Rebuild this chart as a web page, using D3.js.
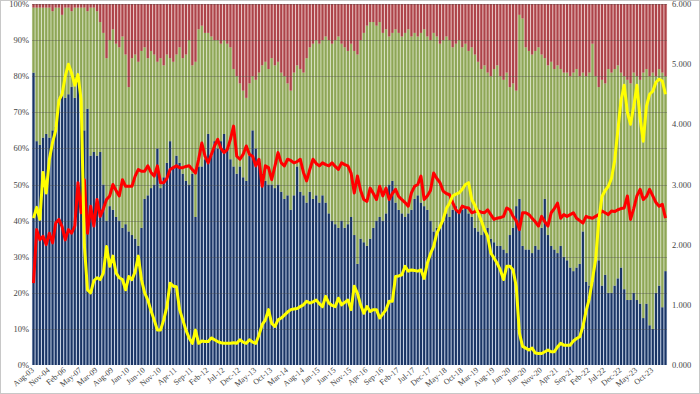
<!DOCTYPE html>
<meta charset="utf-8">
<title>chart</title>
<body>
<script src="https://cdn.jsdelivr.net/npm/d3@7"></script>
<style>
html, body {
    margin: 0;
    background: #fff;
}
svg {
    display: block;
}
text {
    font-family: "Liberation Serif", "DejaVu Serif", serif;
    fill: #444;
}
</style>
<script>
// first 20 points are irregular (quarterly), monthly from Mar-09
var earlyLabels = ["Aug-03", "Nov-03", "Feb-04", "May-04", "Aug-04", "Nov-04", "Feb-05", "May-05", "Aug-05", "Nov-05",
    "Feb-06", "May-06", "Aug-06", "Nov-06", "Feb-07", "May-07", "Aug-07", "Nov-07", "Mar-08", "Sep-08"];
var monthNames = ["Jan", "Feb", "Mar", "Apr", "May", "Jun", "Jul", "Aug", "Sep", "Oct", "Nov", "Dec"];

// share in bottom (blue) segment, %
var blueShare = [
    81, 62, 61, 63, 64, 63, 65, 66, 74, 75,
    74, 75, 77, 74, 81, 70, 65, 71, 58, 59,
    58, 59, 50, 40, 44, 43, 41, 40, 38, 39,
    37, 36, 35, 33, 38, 46, 47, 49, 50, 60,
    49, 52, 56, 62, 55, 58, 56, 53, 51, 50,
    53, 41, 55, 55, 57, 64, 58, 62, 60, 62,
    64, 60, 57, 55, 53, 55, 52, 51, 58, 65,
    60, 56, 53, 51, 50, 50, 49, 50, 48, 46,
    47, 43, 47, 55, 48, 47, 45, 48, 46, 47,
    45, 47, 45, 42, 40, 39, 38, 40, 38, 39,
    41, 36, 28, 35, 34, 33, 35, 38, 40, 41,
    40, 42, 50, 51, 45, 43, 42, 41, 42, 43,
    46, 47, 45, 44, 43, 40, 37, 38, 38, 40,
    42, 41, 43, 44, 42, 43, 44, 42, 41, 38,
    37, 36, 37, 38, 35, 34, 33, 33, 32, 31,
    36, 38, 44, 46, 33, 32, 32, 31, 33, 32,
    38, 46, 36, 33, 32, 31, 33, 30, 29, 27,
    26, 27, 28, 37, 23, 22, 23, 29, 29, 22,
    25, 20, 20, 22, 24, 27, 21, 18, 18, 20,
    18, 17, 13, 17, 11, 10, 20, 22, 16, 26
];

// share in top (red) segment, %
var redShare = [
    1, 1, 1, 1, 1, 1, 2, 1, 1, 3,
    1, 1, 2, 1, 1, 1, 1, 2, 1, 1,
    2, 5, 8, 15, 10, 7, 11, 12, 9, 14,
    23, 15, 14, 16, 13, 12, 15, 13, 14, 16,
    15, 17, 14, 15, 16, 14, 12, 15, 14, 10,
    17, 16, 7, 6, 8, 8, 9, 10, 10, 11,
    10, 11, 12, 18, 20, 22, 24, 26, 22, 20,
    21, 19, 17, 16, 18, 15, 17, 16, 19, 20,
    22, 24, 19, 17, 18, 19, 15, 12, 11, 10,
    11, 10, 9, 10, 11, 10, 9, 11, 12, 13,
    11, 13, 14, 10, 8, 6, 5, 5, 6, 5,
    8, 7, 9, 8, 7, 8, 9, 8, 7, 9,
    8, 9, 8, 7, 9, 10, 8, 9, 11, 10,
    9, 10, 12, 11, 10, 12, 11, 13, 12, 14,
    16, 18, 17, 19, 20, 18, 17, 20, 21, 19,
    23, 22, 24, 3, 4, 12, 13, 14, 13, 12,
    14, 15, 17, 16, 18, 17, 18, 19, 19, 20,
    19, 18, 20, 19, 20, 19, 11, 20, 23, 21,
    22, 18, 19, 18, 17, 19, 20, 21, 22, 19,
    20, 21, 19, 18, 20, 19, 20, 18, 19, 20
];

// right axis series
var yellowLine = [
    2.44, 2.62, 2.42, 3.2, 2.86, 3.42, 3.7, 3.9, 4.4, 4.5,
    4.8, 5.0, 4.85, 4.65, 4.83, 4.4, 2.0, 1.25, 1.2, 1.4,
    1.45, 1.42, 1.53, 1.97, 1.64, 1.81, 1.53, 1.45, 1.42, 1.25,
    1.47, 1.42, 1.55, 1.81, 1.42, 1.2, 1.08, 0.9, 0.75, 0.58,
    0.58, 0.75, 0.97, 1.36, 1.31, 1.3, 0.92, 0.75, 0.58, 0.45,
    0.36, 0.58, 0.36, 0.4, 0.39, 0.39, 0.45, 0.42, 0.39, 0.37,
    0.36, 0.36, 0.36, 0.37, 0.36, 0.42, 0.38, 0.36, 0.42, 0.38,
    0.36, 0.5, 0.67, 0.75, 0.92, 0.69, 0.64, 0.75, 0.78, 0.83,
    0.88, 0.92, 0.93, 0.94, 0.97, 1.0, 1.06, 1.03, 1.05, 1.08,
    1.02, 0.97, 1.14, 1.03, 0.99, 0.97, 1.11, 1.0, 1.04, 1.08,
    0.92, 1.31, 1.19, 1.0, 0.86, 0.97, 0.89, 0.92, 0.92, 0.78,
    0.85, 0.92, 1.06, 1.06, 1.47, 1.48, 1.5, 1.64, 1.56, 1.58,
    1.57, 1.56, 1.58, 1.44, 1.69, 1.85, 1.97, 2.19, 2.3, 2.42,
    2.6, 2.69, 2.81, 2.84, 2.86, 2.92, 3.0, 3.03, 2.75, 2.65,
    2.53, 2.4, 2.25, 2.14, 1.86, 1.78, 1.69, 1.58, 1.42, 1.64,
    1.64, 1.58, 1.31, 0.53, 0.31, 0.28, 0.25, 0.28, 0.2, 0.19,
    0.19, 0.22, 0.25, 0.22, 0.22, 0.3, 0.36, 0.33, 0.33, 0.33,
    0.4, 0.44, 0.47, 0.64, 0.9, 1.1, 1.42, 1.75, 2.4, 2.8,
    2.9, 2.97, 3.1, 3.4, 3.9, 4.4, 4.65, 4.2, 4.0, 4.3,
    4.65, 4.1, 3.72, 4.3, 4.5, 4.55, 4.7, 4.75, 4.72, 4.5
];

var redLine = [
    1.36, 2.25, 2.08, 2.14, 2.0, 2.19, 2.03, 2.36, 2.42, 2.3,
    2.08, 2.25, 2.19, 2.31, 3.03, 2.53, 3.08, 2.19, 2.64, 2.31,
    2.75, 2.47, 2.6, 2.75, 2.81, 3.0, 2.9, 2.81, 3.08, 2.97,
    2.97, 2.97, 3.14, 3.25, 3.22, 3.22, 3.31, 3.2, 3.14, 3.31,
    3.03, 3.03, 3.1, 3.25, 3.28, 3.31, 3.28, 3.28, 3.3, 3.31,
    3.25, 3.19, 3.42, 3.69, 3.47, 3.36, 3.5, 3.64, 3.75, 3.6,
    3.53, 3.58, 3.75, 3.97, 3.47, 3.42, 3.5, 3.64, 3.5, 3.47,
    3.31, 3.42, 2.97, 3.31, 3.28, 3.08, 3.3, 3.53, 3.36, 3.31,
    3.42, 3.4, 3.36, 3.38, 3.42, 3.2, 3.06, 3.25, 3.42, 3.35,
    3.31, 3.36, 3.33, 3.31, 3.36, 3.3, 3.25, 3.36, 3.33, 3.31,
    3.19, 2.86, 3.14, 2.9, 2.75, 2.72, 2.94, 2.85, 2.75, 2.97,
    2.81, 2.94, 2.75, 2.85, 2.92, 2.8, 2.75, 2.7, 2.64, 2.86,
    2.97, 3.0, 3.14, 2.75, 2.81, 2.9, 3.19, 3.1, 3.03, 2.89,
    2.85, 2.83, 2.7, 2.58, 2.53, 2.64, 2.62, 2.61, 2.53, 2.55,
    2.56, 2.54, 2.53, 2.58, 2.5, 2.42, 2.44, 2.45, 2.47, 2.61,
    2.58, 2.47, 2.4, 2.25, 2.53, 2.53, 2.5, 2.44, 2.38, 2.31,
    2.47, 2.38, 2.31, 2.53, 2.6, 2.69, 2.44, 2.5, 2.47, 2.5,
    2.53, 2.44, 2.4, 2.36, 2.47, 2.45, 2.44, 2.47, 2.5, 2.56,
    2.53, 2.5, 2.56, 2.55, 2.58, 2.6, 2.61, 2.81, 2.42, 2.6,
    2.81, 2.92, 2.75, 2.8, 2.92, 2.81, 2.7, 2.64, 2.67, 2.44
];

var leftTicks = [0, 10, 20, 30, 40, 50, 60, 70, 80, 90, 100];
var rightTicks = [0, 1, 2, 3, 4, 5, 6];

var categories = earlyLabels.slice();
for (var k = 0; categories.length < blueShare.length; k++) {
    var m = (2 + k) % 12, yr = 9 + Math.floor((2 + k) / 12);
    categories.push(monthNames[m] + "-" + (yr < 10 ? "0" + yr : yr));
}

var width = 700,
    height = 394,
    plotLeft = 32,
    plotRight = 667,
    plotTop = 4,
    plotBottom = 365;

var svg = d3.select("body").append("svg")
    .attr("width", width)
    .attr("height", height);

svg.append("rect")
    .attr("x", 0.5).attr("y", 0.5)
    .attr("width", width - 1).attr("height", height - 1)
    .attr("fill", "#fff")
    .attr("stroke", "#c8c8c8");

var x = d3.scaleBand()
    .domain(d3.range(categories.length))
    .range([plotLeft, plotRight])
    .paddingInner(0.35)
    .paddingOuter(0.15);

var yL = d3.scaleLinear().domain([0, 100]).range([plotBottom, plotTop]);
var yR = d3.scaleLinear().domain([0, 6]).range([plotBottom, plotTop]);

var data = categories.map(function(c, i) {
    var b = blueShare[i], r = redShare[i];
    return {i: i, blue: b, green: 100 - b - r, red: r};
});

var stack = d3.stack().keys(["blue", "green", "red"])(data);
var colors = {blue: "#1a3565", green: "#8ea656", red: "#ad4349"};
var gapColors = {blue: "#b3c2da", green: "#cbd8ae", red: "#e2b3b3"};

// light tint behind each segment shows in the gaps between bars
svg.append("g").selectAll("g")
    .data(stack)
    .enter().append("g")
    .attr("fill", function(d) { return gapColors[d.key]; })
    .selectAll("rect")
    .data(function(d) { return d; })
    .enter().append("rect")
    .attr("x", function(d) { return x(d.data.i) - (x.step() - x.bandwidth()) / 2; })
    .attr("width", x.step())
    .attr("y", function(d) { return yL(d[1]); })
    .attr("height", function(d) { return yL(d[0]) - yL(d[1]); });

svg.append("g").selectAll("g")
    .data(stack)
    .enter().append("g")
    .attr("fill", function(d) { return colors[d.key]; })
    .selectAll("rect")
    .data(function(d) { return d; })
    .enter().append("rect")
    .attr("x", function(d) { return x(d.data.i); })
    .attr("width", x.bandwidth())
    .attr("y", function(d) { return yL(d[1]); })
    .attr("height", function(d) { return yL(d[0]) - yL(d[1]); });

// gridlines
svg.append("g").selectAll("line")
    .data(leftTicks.slice(1))
    .enter().append("line")
    .attr("x1", plotLeft).attr("x2", plotRight)
    .attr("y1", function(d) { return Math.round(yL(d)) + 0.5; })
    .attr("y2", function(d) { return Math.round(yL(d)) + 0.5; })
    .attr("stroke", "#4a4a4a")
    .attr("stroke-opacity", 0.45)
    .attr("stroke-width", 0.8);

var line = d3.line()
    .x(function(d, i) { return x(i) + x.bandwidth() / 2; })
    .y(function(d) { return yR(d); });

svg.append("path")
    .datum(redLine)
    .attr("fill", "none")
    .attr("stroke", "#ff0000")
    .attr("stroke-width", 3)
    .attr("stroke-linejoin", "round")
    .attr("d", line);

svg.append("path")
    .datum(yellowLine)
    .attr("fill", "none")
    .attr("stroke", "#ffff00")
    .attr("stroke-width", 3)
    .attr("stroke-linejoin", "round")
    .attr("d", line);

// left axis
svg.append("g").selectAll("text")
    .data(leftTicks)
    .enter().append("text")
    .attr("x", 29)
    .attr("y", function(d) { return yL(d) + 3; })
    .attr("text-anchor", "end")
    .attr("font-size", 8.5)
    .text(function(d) { return d + "%"; });

// right axis
svg.append("g").selectAll("text")
    .data(rightTicks)
    .enter().append("text")
    .attr("x", 672)
    .attr("y", function(d) { return yR(d) + 3; })
    .attr("font-size", 8.5)
    .text(function(d) { return d3.format(".3f")(d); });

// x labels, every 5th
svg.append("g").selectAll("text")
    .data(categories.filter(function(c, i) { return i % 5 === 0 && i < 198; }))
    .enter().append("text")
    .attr("transform", function(d) {
        var i = categories.indexOf(d);
        return "translate(" + (x(i) + x.bandwidth() / 2 + 1) + "," + (plotBottom + 6) + ") rotate(-40)";
    })
    .attr("text-anchor", "end")
    .attr("font-size", 8)
    .text(function(d) { return d; });
</script>
